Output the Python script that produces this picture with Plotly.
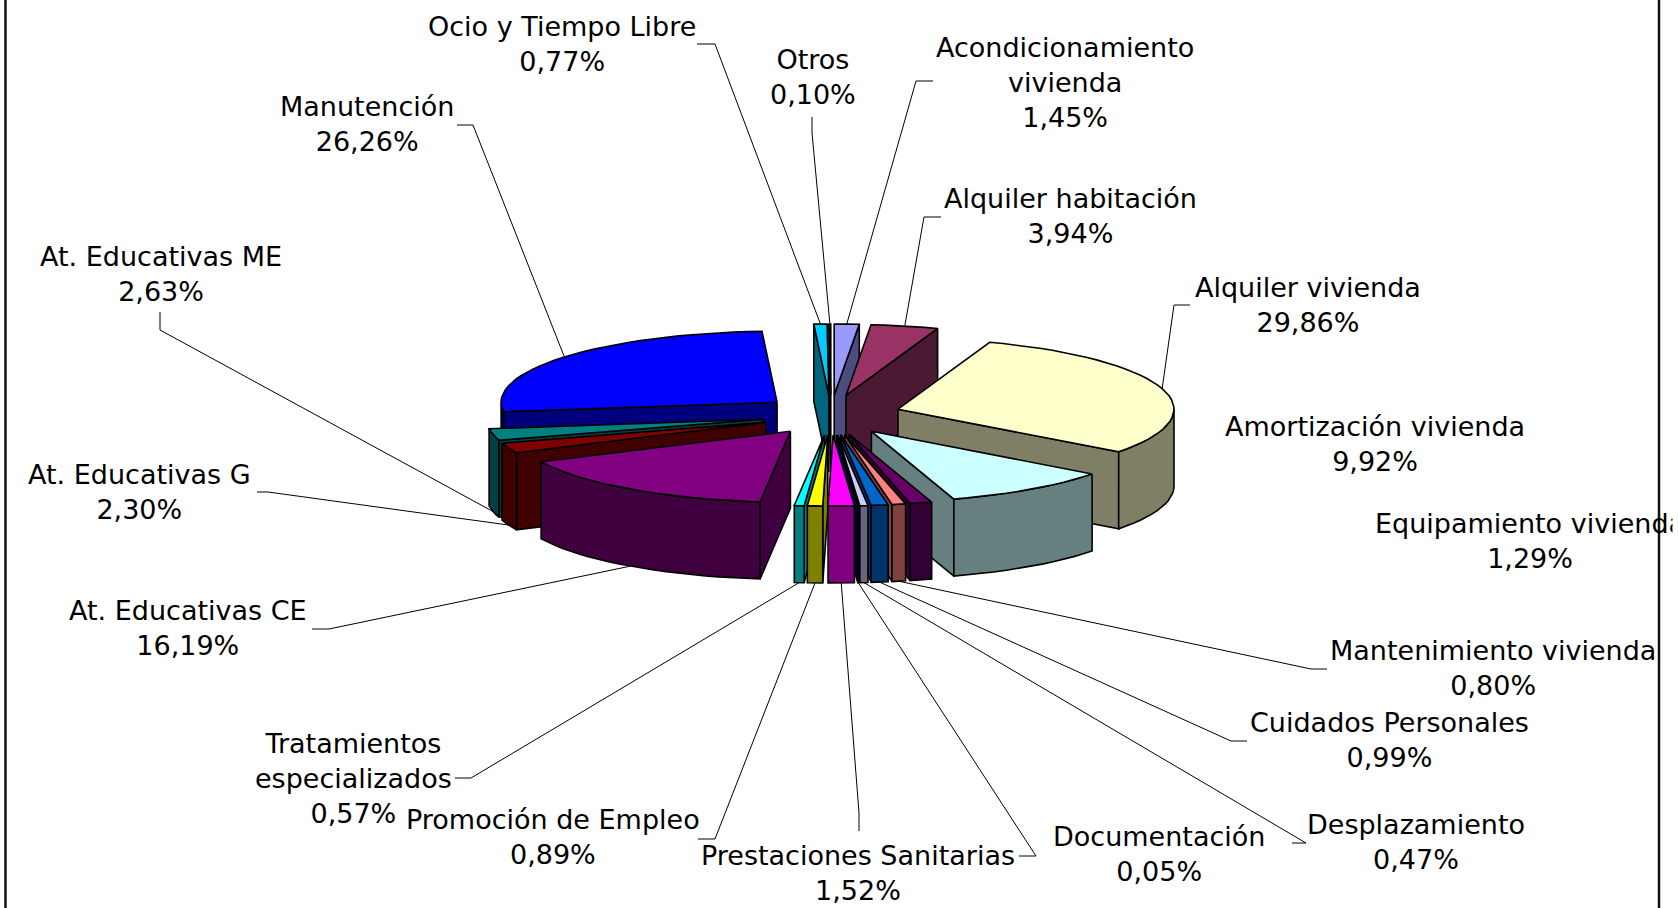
"""
Distribucion del gasto: exploded 3D pie drawn on a pixel-sized cartesian plane.
"""

import math

import plotly.graph_objects as go

categories = [
    "Acondicionamiento<br>vivienda", "Alquiler habitación", "Alquiler vivienda",
    "Amortización vivienda", "Equipamiento vivienda", "Mantenimiento vivienda",
    "Cuidados Personales", "Desplazamiento", "Documentación",
    "Prestaciones Sanitarias", "Promoción de Empleo", "Tratamientos<br>especializados",
    "At. Educativas CE", "At. Educativas G", "At. Educativas ME",
    "Manutención", "Ocio y Tiempo Libre", "Otros",
]
values = [1.45, 3.94, 29.86, 9.92, 1.29, 0.80, 0.99, 0.47, 0.05,
          1.52, 0.89, 0.57, 16.19, 2.30, 2.63, 26.26, 0.77, 0.10]
colors = ["#9999FF", "#993366", "#FFFFCC", "#CCFFFF", "#660066", "#FF8080",
          "#0066CC", "#CCCCFF", "#000080", "#FF00FF", "#FFFF00", "#00FFFF",
          "#800080", "#800000", "#008080", "#0000FF", "#00CCFF", "#CCFFFF"]

# label block centres, in page pixels
label_x = [1065, 1070, 1308, 1375, 1530, 1493, 1389, 1416, 1159,
           858, 553, 353, 188, 139, 161, 367, 562, 813]
label_y = [82, 216, 305, 444, 541, 668, 740, 842, 854,
           873, 837, 778, 628, 492, 274, 124, 44, 77]
# elbow of each leader line: start of the stub next to the label, then the bend
stub_start = [(933, 81), (941, 217), (1190, 305), None, None, (1327, 669),
              (1247, 741), (1292, 843), (1019, 856), (859, 831), (698, 839),
              (455, 778), (312, 629), (257, 492), (160, 312), (457, 125),
              (697, 44), (812, 117)]
stub_end = [(916, 81), (924, 217), (1174, 305), None, None, (1311, 669),
            (1231, 741), (1306, 843), (1036, 856), (859, 813), (715, 839),
            (471, 778), (329, 629), (268, 492), (160, 330), (473, 125),
            (715, 44), (812, 133)]

# pie geometry, page pixels
CX, CY = 831, 415
RX, RY = 276, 71
EX, EY = 70, 20
DEPTH = 77
LINE = dict(color="black", width=1.6)


def darken(hex_color):
    rgb = [int(hex_color[i:i + 2], 16) // 2 for i in (1, 3, 5)]
    return "#%02x%02x%02x" % tuple(rgb)


def rim(apex, deg):
    a = math.radians(deg)
    return apex[0] + RX * math.sin(a), apex[1] - RY * math.cos(a)


def arc(apex, a0, a1):
    n = max(2, int((a1 - a0) / 3) + 2)
    return [rim(apex, a0 + (a1 - a0) * i / (n - 1)) for i in range(n)]


def add_poly(fig, pts, fill):
    fig.add_trace(go.Scatter(
        x=[p[0] for p in pts] + [pts[0][0]],
        y=[p[1] for p in pts] + [pts[0][1]],
        mode="lines",
        fill="toself",
        fillcolor=fill,
        line=LINE,
        hoverinfo="skip",
        showlegend=False,
    ))


def down(pts):
    return [(x, y + DEPTH) for x, y in pts]


# slice angles, clockwise from 12 o'clock
slices = []
start = 0.0
for i, v in enumerate(values):
    end = start + v * 3.6
    mid = math.radians((start + end) / 2)
    apex = (CX + EX * math.sin(mid), CY - EY * math.cos(mid))
    slices.append(dict(i=i, a0=start, a1=end, mid=(start + end) / 2, apex=apex))
    start = end

fig = go.Figure()

# paint from the back of the pie to the front
for s in sorted(slices, key=lambda d: -math.cos(math.radians(d["mid"]))):
    top, side = colors[s["i"]], darken(colors[s["i"]])
    apex, a0, a1 = s["apex"], s["a0"], s["a1"]
    if math.sin(math.radians(a0)) < 0:
        edge = [apex, rim(apex, a0)]
        add_poly(fig, edge + down(edge)[::-1], side)
    if math.sin(math.radians(a1)) > 0:
        edge = [apex, rim(apex, a1)]
        add_poly(fig, edge + down(edge)[::-1], side)
    lo, hi = max(a0, 90), min(a1, 270)
    if lo < hi:
        outer = arc(apex, lo, hi)
        add_poly(fig, outer + down(outer)[::-1], side)
    add_poly(fig, [apex] + arc(apex, a0, a1), top)

# leader lines end on the rim of their slice
for s in slices:
    i = s["i"]
    if stub_start[i] is None:
        continue
    x, y = rim(s["apex"], s["mid"])
    if math.cos(math.radians(s["mid"])) < 0:
        y += DEPTH
    fig.add_trace(go.Scatter(
        x=[stub_start[i][0], stub_end[i][0], x],
        y=[stub_start[i][1], stub_end[i][1], y],
        mode="lines",
        line=dict(color="black", width=1),
        hoverinfo="skip",
        showlegend=False,
    ))

for i, name in enumerate(categories):
    pct = f"{values[i]:.2f}".replace(".", ",") + "%"
    fig.add_annotation(
        x=label_x[i], y=label_y[i],
        text=f"{name}<br>{pct}",
        showarrow=False,
        xanchor="center", yanchor="middle",
        align="center",
        font=dict(family="DejaVu Sans", size=27, color="black"),
    )

# the source picture is cut just after the last letter of this label
fig.add_annotation(
    x=1672, y=522, xanchor="left", yanchor="middle",
    text=" ", showarrow=False, bgcolor="white", width=8, height=40,
    font=dict(size=20),
)

# chart frame, only its sides are inside the picture
for fx in (5.5, 1659):
    fig.add_shape(type="line", x0=fx, x1=fx, y0=0, y1=908,
                  line=dict(color="#111111", width=2.5))

fig.update_layout(
    width=1678,
    height=908,
    margin=dict(l=0, r=0, t=0, b=0),
    paper_bgcolor="white",
    plot_bgcolor="white",
    showlegend=False,
    xaxis=dict(range=[0, 1678], visible=False, fixedrange=True),
    yaxis=dict(range=[908, 0], visible=False, fixedrange=True),
)

# drop the browser's default page margin so the plane lines up with the window
fig.write_html(
    "out.html",
    config=dict(displayModeBar=False),
    post_script="document.body.style.margin='0';document.body.style.overflow='hidden';",
)
